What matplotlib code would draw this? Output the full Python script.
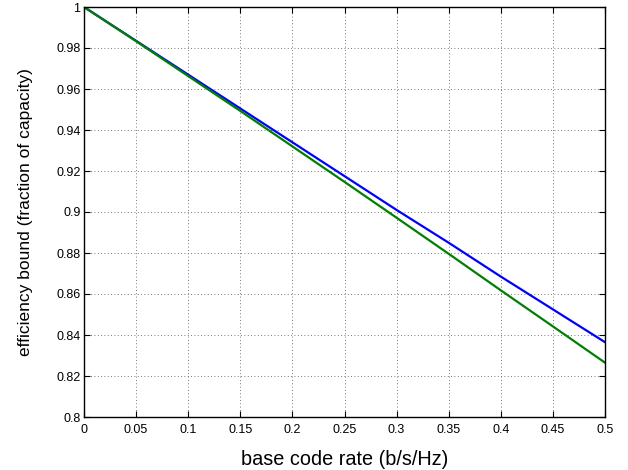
import numpy as np
import matplotlib
matplotlib.use("Agg")
import matplotlib.pyplot as plt

plt.rcParams['font.family'] = ['Liberation Sans', 'DejaVu Sans']

# values
rate = [0.0, 0.05, 0.1, 0.15, 0.2, 0.25, 0.3, 0.35, 0.4, 0.45, 0.5]
bound_blue = [1.0, 0.9835, 0.967, 0.9505, 0.934, 0.9175, 0.901, 0.885, 0.8685, 0.8525, 0.8365]
bound_green = [1.0, 0.9833, 0.9663, 0.9493, 0.932, 0.9147, 0.8972, 0.8796, 0.8618, 0.8442, 0.8265]

xticks = [0, 0.05, 0.1, 0.15, 0.2, 0.25, 0.3, 0.35, 0.4, 0.45, 0.5]
xticklabels = ["0", "0.05", "0.1", "0.15", "0.2", "0.25", "0.3", "0.35", "0.4", "0.45", "0.5"]
yticks = [0.8, 0.82, 0.84, 0.86, 0.88, 0.9, 0.92, 0.94, 0.96, 0.98, 1.0]
yticklabels = ["0.8", "0.82", "0.84", "0.86", "0.88", "0.9", "0.92", "0.94", "0.96", "0.98", "1"]

fig = plt.figure(figsize=(6.28, 4.70), dpi=100)
ax = fig.add_axes([84 / 628, 1 - 417 / 470, 521 / 628, 410 / 470])

ax.plot(rate, bound_blue, color=(0, 0, 1), linewidth=1.6)
ax.plot(rate, bound_green, color=(0, 0.5, 0), linewidth=1.6)

ax.set_xlim(0, 0.5)
ax.set_ylim(0.8, 1.0)
ax.set_xticks(xticks)
ax.set_xticklabels(xticklabels)
ax.set_yticks(yticks)
ax.set_yticklabels(yticklabels)

ax.grid(True, linestyle=(0, (1, 3)), color="0.3", linewidth=0.6)
ax.tick_params(direction="in", length=4, width=0.8, top=True, right=True,
               labelsize=9)
ax.tick_params(axis="x", pad=5)
ax.tick_params(axis="y", pad=2.5)
for s in ax.spines.values():
    s.set_linewidth(1.0)

ax.set_xlabel("base code rate (b/s/Hz)", fontsize=14.3)
ax.set_ylabel("efficiency bound (fraction of capacity)", fontsize=12.5)
ax.yaxis.set_label_coords(-0.098, 0.5)
ax.xaxis.set_label_coords(0.5, -0.08)

fig.savefig("out.png", dpi=100)
